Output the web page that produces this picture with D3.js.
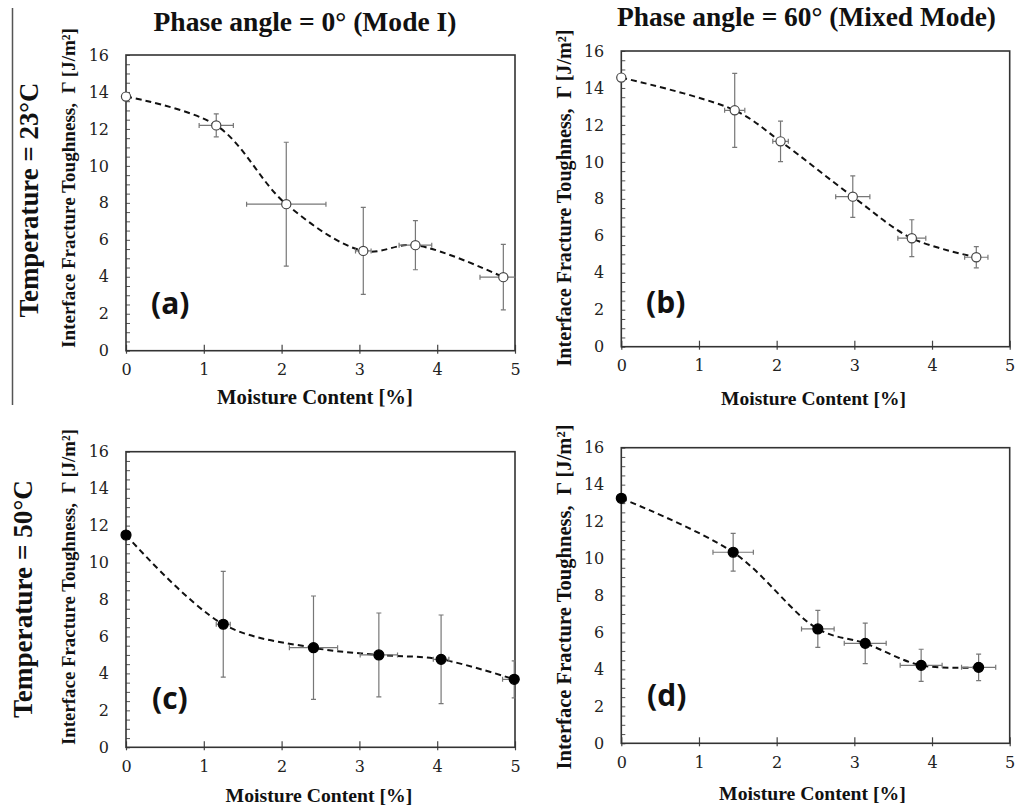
<!DOCTYPE html>
<html><head><meta charset="utf-8">
<script src="https://cdn.jsdelivr.net/npm/d3@7"></script>
<style>body{margin:0;background:#fff}svg{display:block}</style>
</head><body><svg id="chart" width="1016" height="807"></svg>
<script>
// ---- text / tick data ----
const xTicks = [0, 1, 2, 3, 4, 5];
const yTicks = [0, 2, 4, 6, 8, 10, 12, 14, 16];
const yMinorTicks = d3.range(0, 16.01, 0.5);
const columnTitles = ["Phase angle = 0° (Mode I)", "Phase angle = 60° (Mixed Mode)"];
const rowTitles = ["Temperature = 23°C", "Temperature = 50°C"];
const panelLetters = ["(a)", "(b)", "(c)", "(d)"];
const xAxisTitle = "Moisture Content [%]";
const yAxisTitle = "Interface Fracture Toughness,\u00A0 Γ [J/m²]";

// ---- series data (moisture %, toughness J/m², x error, y error) ----
const moistureA = [0, 1.16, 2.06, 3.05, 3.72, 4.85];
const toughnessA = [13.75, 12.19, 7.93, 5.4, 5.71, 3.98];
const moistureErrA = [0, 0.22, 0.51, 0.1, 0.21, 0.3];
const toughnessErrA = [0, 0.62, 3.35, 2.35, 1.33, 1.77];

const moistureB = [0, 1.46, 2.05, 2.98, 3.74, 4.57];
const toughnessB = [14.56, 12.79, 11.11, 8.12, 5.87, 4.84];
const moistureErrB = [0, 0.13, 0.1, 0.22, 0.18, 0.15];
const toughnessErrB = [0, 2.0, 1.1, 1.12, 1.0, 0.57];

const moistureC = [0, 1.25, 2.41, 3.25, 4.05, 4.99];
const toughnessC = [11.49, 6.66, 5.39, 5.0, 4.76, 3.68];
const moistureErrC = [0, 0.09, 0.31, 0.24, 0.1, 0.15];
const toughnessErrC = [0, 2.86, 2.8, 2.27, 2.4, 1.0];

const moistureD = [0, 1.44, 2.53, 3.14, 3.86, 4.6];
const toughnessD = [13.26, 10.34, 6.19, 5.41, 4.22, 4.11];
const moistureErrD = [0, 0.26, 0.21, 0.27, 0.27, 0.22];
const toughnessErrD = [0, 1.02, 1.0, 1.1, 0.87, 0.72];

// ---- layout ----
const svg = d3.select("#chart");
const SERIF = "'Liberation Serif', 'Times New Roman', serif";
const TICKFONT = "'DejaVu Serif', 'Liberation Serif', serif";

function fit(sel, target, start) {
  sel.attr("font-size", start);
  const len = sel.node().getComputedTextLength();
  sel.attr("font-size", (start * target / len).toFixed(2));
  return sel;
}
function tickStyle(s) {
  s.attr("font-size", null).attr("font-family", null)
   .style("font-family", TICKFONT).style("font-size", "16px");
  s.selectAll("text").style("font-family", TICKFONT).style("font-size", "16px").attr("fill", "#222");
}

const panels = [
  {x: moistureA, y: toughnessA, xe: moistureErrA, ye: toughnessErrA, filled: false, letter: panelLetters[0],
   box: {l: 126, r: 515, t: 55, b: 350.7}, ylab: {x: 75, c: 188, w: 320}, xlab: {c: 315, y: 404, w: 196}, let: {x: 151, y: 314}},
  {x: moistureB, y: toughnessB, xe: moistureErrB, ye: toughnessErrB, filled: false, letter: panelLetters[1],
   box: {l: 621.3, r: 1009.7, t: 51, b: 346.7}, ylab: {x: 571, c: 198, w: 337}, xlab: {c: 813.5, y: 405, w: 185}, let: {x: 646, y: 313}},
  {x: moistureC, y: toughnessC, xe: moistureErrC, ye: toughnessErrC, filled: true, letter: panelLetters[2],
   box: {l: 126, r: 515, t: 451.7, b: 747.3}, ylab: {x: 75, c: 587, w: 316}, xlab: {c: 319, y: 802, w: 187}, let: {x: 152, y: 709}},
  {x: moistureD, y: toughnessD, xe: moistureErrD, ye: toughnessErrD, filled: true, letter: panelLetters[3],
   box: {l: 621.3, r: 1009.7, t: 447.7, b: 743.3}, ylab: {x: 571, c: 597, w: 345}, xlab: {c: 812.5, y: 800, w: 187}, let: {x: 647, y: 706}}
];

const defs = svg.append("defs");

panels.forEach((p, i) => {
  const xs = d3.scaleLinear().domain([0, 5]).range([p.box.l, p.box.r]);
  const ys = d3.scaleLinear().domain([0, 16]).range([p.box.b, p.box.t]);
  const g = svg.append("g");
  const cid = "clip" + i;
  defs.append("clipPath").attr("id", cid).append("rect")
    .attr("x", p.box.l).attr("y", p.box.t - 20)
    .attr("width", p.box.r - p.box.l + 0.5).attr("height", p.box.b - p.box.t + 20);

  // y minor ticks (inward)
  g.append("g").attr("transform", `translate(${p.box.l},0)`)
    .call(d3.axisLeft(ys).tickValues(yMinorTicks).tickSize(-4).tickFormat(""))
    .call(s => s.select(".domain").remove())
    .call(s => s.selectAll("line").attr("stroke", "#555").attr("stroke-width", 1));
  // y major tick labels
  g.append("g").attr("transform", `translate(${p.box.l},0)`)
    .call(d3.axisLeft(ys).tickValues(yTicks).tickSize(0).tickPadding(17).tickFormat(d3.format("d")))
    .call(s => s.select(".domain").remove())
    .call(tickStyle);
  // x axis ticks crossing
  g.append("g").attr("transform", `translate(0,${p.box.b})`)
    .call(d3.axisBottom(xs).tickValues(xTicks).tickSize(3).tickPadding(10).tickFormat(d3.format("d")))
    .call(s => s.select(".domain").remove())
    .call(s => s.selectAll("line").attr("y1", -6).attr("stroke", "#444").attr("stroke-width", 1.2))
    .call(tickStyle);

  // frame
  g.append("rect").attr("x", p.box.l).attr("y", p.box.t)
    .attr("width", p.box.r - p.box.l).attr("height", p.box.b - p.box.t)
    .attr("fill", "none").attr("stroke", "#333").attr("stroke-width", 1.6);

  const pts = p.x.map((v, k) => ({x: v, y: p.y[k], xe: p.xe[k], ye: p.ye[k]}));
  const plot = g.append("g").attr("clip-path", `url(#${cid})`);

  // dashed smooth line
  plot.append("path").datum(pts)
    .attr("d", d3.line().x(d => xs(d.x)).y(d => ys(d.y)).curve(d3.curveCatmullRom.alpha(0.5)))
    .attr("fill", "none").attr("stroke", "#111").attr("stroke-width", 2)
    .attr("stroke-dasharray", "6,4");

  // error bars
  const eb = plot.append("g").attr("stroke", "#777").attr("stroke-width", 1.2);
  const cap = 2.5;
  pts.forEach(d => {
    if (d.ye > 0) {
      eb.append("line").attr("x1", xs(d.x)).attr("x2", xs(d.x)).attr("y1", ys(d.y - d.ye)).attr("y2", ys(d.y + d.ye));
      [d.y - d.ye, d.y + d.ye].forEach(v => eb.append("line")
        .attr("x1", xs(d.x) - cap).attr("x2", xs(d.x) + cap).attr("y1", ys(v)).attr("y2", ys(v)));
    }
    if (d.xe > 0) {
      eb.append("line").attr("y1", ys(d.y)).attr("y2", ys(d.y)).attr("x1", xs(d.x - d.xe)).attr("x2", xs(d.x + d.xe));
      [d.x - d.xe, d.x + d.xe].forEach(v => eb.append("line")
        .attr("y1", ys(d.y) - cap).attr("y2", ys(d.y) + cap).attr("x1", xs(v)).attr("x2", xs(v)));
    }
  });

  // markers
  g.append("g").selectAll("circle").data(pts).join("circle")
    .attr("cx", d => xs(d.x)).attr("cy", d => ys(d.y))
    .attr("r", p.filled ? 5 : 4.6)
    .attr("fill", p.filled ? "#000" : "#fff")
    .attr("stroke", p.filled ? "#000" : "#444").attr("stroke-width", 1.2);

  // panel letter
  g.append("text").attr("x", p.let.x).attr("y", p.let.y)
    .attr("font-family", "'Open Sans', sans-serif").attr("font-weight", 700)
    .attr("font-size", 30).attr("fill", "#111").text(p.letter);

  // axis titles
  fit(g.append("text").attr("transform", `translate(${p.ylab.x},${p.ylab.c}) rotate(-90)`)
    .attr("text-anchor", "middle").attr("font-family", SERIF).attr("font-weight", 700)
    .attr("fill", "#111").text(yAxisTitle), p.ylab.w, 16);
  fit(g.append("text").attr("x", p.xlab.c).attr("y", p.xlab.y)
    .attr("text-anchor", "middle").attr("font-family", SERIF).attr("font-weight", 700)
    .attr("fill", "#111").text(xAxisTitle), p.xlab.w, 16);
});

// column titles
fit(svg.append("text").attr("x", 305).attr("y", 31).attr("text-anchor", "middle")
  .attr("font-family", SERIF).attr("font-weight", 700).attr("fill", "#111").text(columnTitles[0]), 303, 22);
fit(svg.append("text").attr("x", 806.5).attr("y", 26).attr("text-anchor", "middle")
  .attr("font-family", SERIF).attr("font-weight", 700).attr("fill", "#111").text(columnTitles[1]), 379, 22);

// row titles
fit(svg.append("text").attr("transform", "translate(38,200) rotate(-90)").attr("text-anchor", "middle")
  .attr("font-family", SERIF).attr("font-weight", 700).attr("fill", "#111").text(rowTitles[0]), 235, 24);
fit(svg.append("text").attr("transform", "translate(32,599) rotate(-90)").attr("text-anchor", "middle")
  .attr("font-family", SERIF).attr("font-weight", 700).attr("fill", "#111").text(rowTitles[1]), 238, 24);

// separator line
svg.append("line").attr("x1", 12.5).attr("x2", 12.5).attr("y1", 8).attr("y2", 405)
  .attr("stroke", "#555").attr("stroke-width", 1.5);
</script></body></html>
